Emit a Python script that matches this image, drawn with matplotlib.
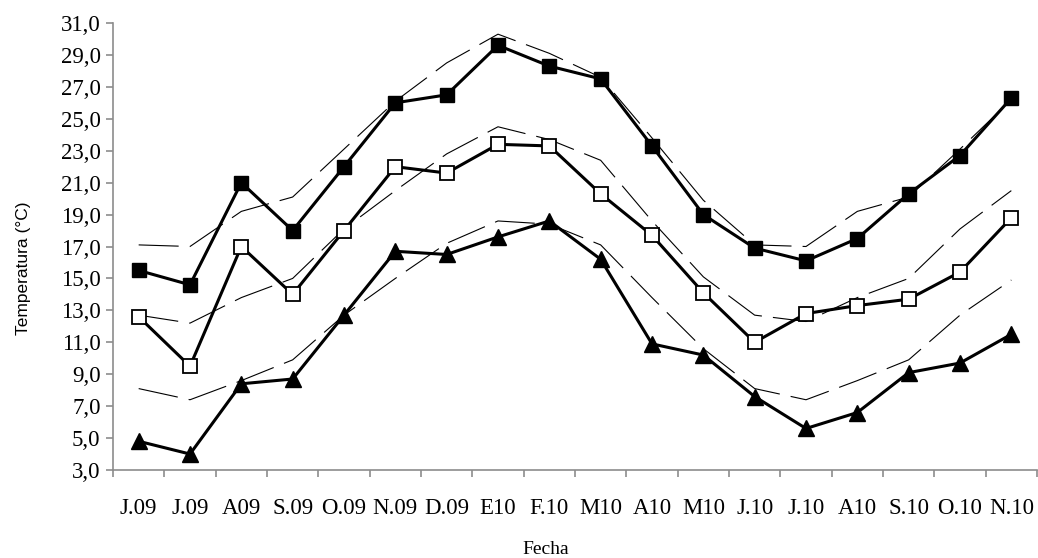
import matplotlib
matplotlib.use("Agg")
import matplotlib.pyplot as plt
from matplotlib.ticker import FixedLocator, FuncFormatter

# Data
meses = ["J.09", "J.09", "A09", "S.09", "O.09", "N.09", "D.09", "E10", "F.10",
         "M10", "A10", "M10", "J.10", "J.10", "A10", "S.10", "O.10", "N.10"]

t_max = [15.5, 14.6, 21.0, 18.0, 22.0, 26.0, 26.5, 29.6, 28.3,
         27.5, 23.3, 19.0, 16.9, 16.1, 17.5, 20.3, 22.7, 26.3]
t_med = [12.6, 9.5, 17.0, 14.0, 18.0, 22.0, 21.6, 23.4, 23.3,
         20.3, 17.7, 14.1, 11.0, 12.8, 13.3, 13.7, 15.4, 18.8]
t_min = [4.8, 4.0, 8.4, 8.7, 12.7, 16.7, 16.5, 17.6, 18.6,
         16.2, 10.9, 10.2, 7.6, 5.6, 6.6, 9.1, 9.7, 11.5]

# normales (lineas discontinuas)
n_max = [17.1, 17.0, 19.2, 20.1, 23.1, 26.1, 28.5, 30.3, 29.1,
         27.6, 23.8, 19.9, 17.1, 17.0, 19.2, 20.1, 23.1, 26.2]
n_med = [12.7, 12.2, 13.8, 15.0, 18.1, 20.5, 22.8, 24.5, 23.7,
         22.4, 18.6, 15.1, 12.7, 12.3, 13.8, 15.0, 18.1, 20.5]
n_min = [8.1, 7.4, 8.6, 9.9, 12.7, 15.0, 17.2, 18.6, 18.4,
         17.1, 13.8, 10.6, 8.1, 7.4, 8.6, 9.9, 12.7, 14.9]

W, H = 1038, 558
fig = plt.figure(figsize=(W / 100, H / 100), dpi=100)
ax = fig.add_axes([113 / W, (H - 470) / H, (1037 - 113) / W, (470 - 23) / H])

x = list(range(len(meses)))
dash = (0, (36, 10))
for serie in (n_max, n_med, n_min):
    ax.plot(x, serie, color="black", lw=0.8, linestyle=dash, zorder=2)

ax.plot(x, t_max, color="black", lw=2.2, marker="s", ms=10,
        mfc="black", mec="black", zorder=3)
ax.plot(x, t_med, color="black", lw=2.2, marker="s", ms=10,
        mfc="white", mec="black", mew=1.3, zorder=3)
ax.plot(x, t_min, color="black", lw=2.2, marker="^", ms=11.5,
        mfc="black", mec="black", zorder=3)

# Axes
ax.set_xlim(-0.5, len(meses) - 0.5)
ax.set_ylim(3, 31)
for s in ("top", "right"):
    ax.spines[s].set_visible(False)
for s in ("left", "bottom"):
    ax.spines[s].set_color("#8c8c8c")
    ax.spines[s].set_linewidth(1.2)

ax.xaxis.set_major_locator(FixedLocator([i - 0.5 for i in range(len(meses) + 1)]))
ax.xaxis.set_minor_locator(FixedLocator(x))
ax.xaxis.set_major_formatter(FuncFormatter(lambda v, p: ""))
ax.set_xticks(x, meses, minor=True)
ax.tick_params(axis="x", which="major", length=5, width=1.2, color="#8c8c8c", direction="out")
ax.tick_params(axis="x", which="minor", length=0, pad=20)

ax.set_yticks(range(3, 32, 2))
ax.yaxis.set_major_formatter(FuncFormatter(lambda v, p: f"{v:.1f}".replace(".", ",")))
ax.tick_params(axis="y", length=5, width=1.2, color="#8c8c8c", direction="out", pad=4)

for lab in ax.get_xticklabels(minor=True) + ax.get_yticklabels():
    lab.set_fontfamily("Liberation Serif")
    lab.set_fontsize(16.5)

ax.set_ylabel("Temperatura (°C)", fontfamily="Liberation Sans", fontsize=12.5)
ax.yaxis.set_label_coords(-82 / 924, (470 - 268) / 447)
ax.set_xlabel("Fecha", fontfamily="Liberation Serif", fontsize=14)
ax.xaxis.set_label_coords((546 - 113) / 924, -(549 - 470) / 447)
ax.xaxis.label.set_va("center")

fig.savefig("out.png", dpi=100)
